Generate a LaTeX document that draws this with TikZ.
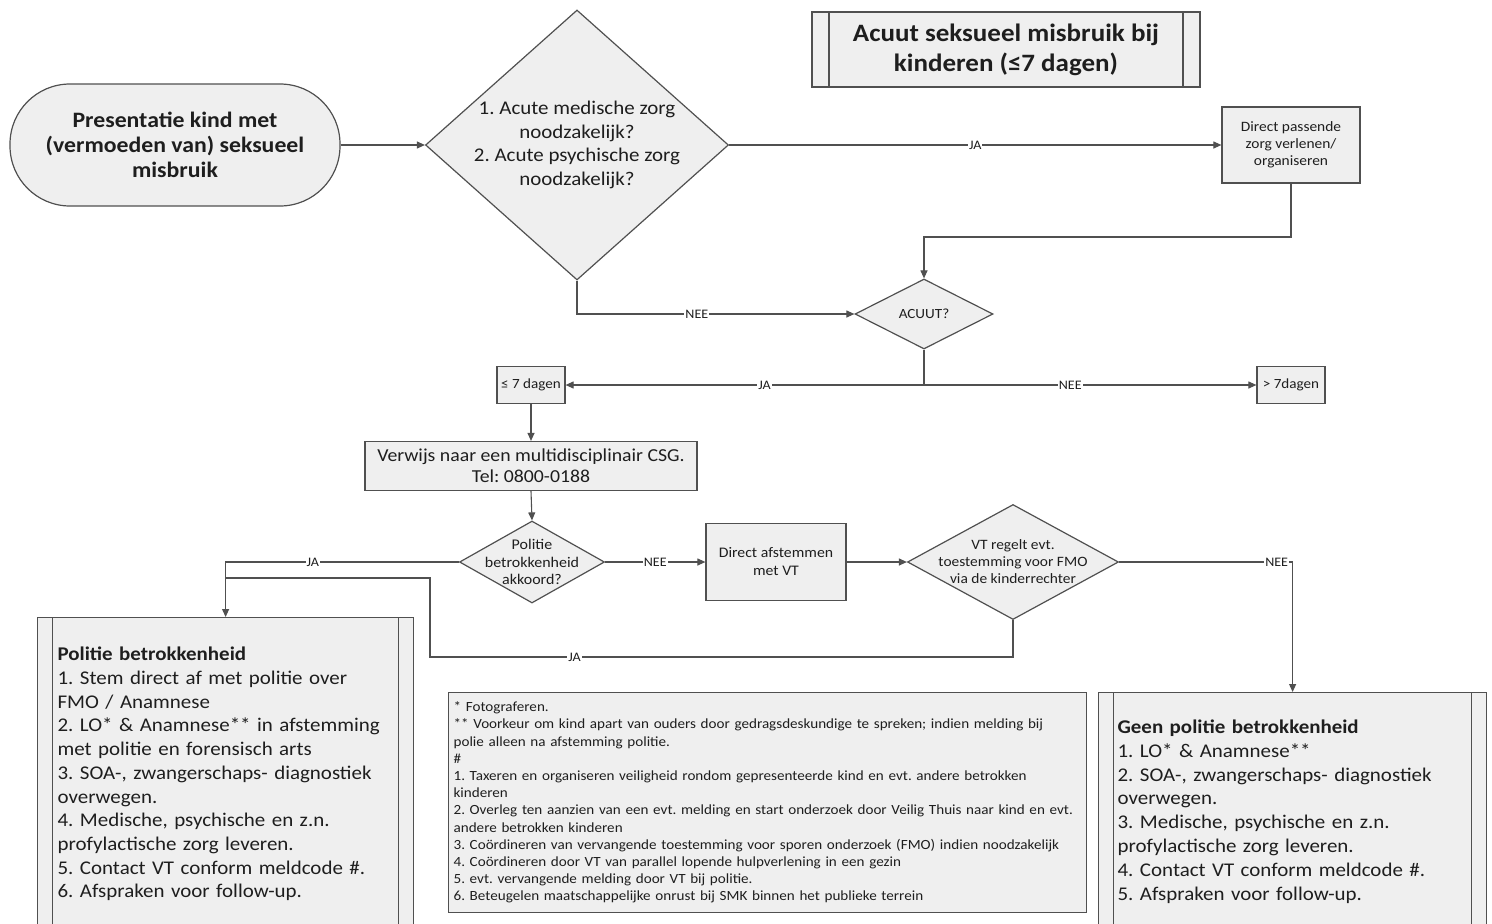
\documentclass[tikz,border=0pt]{standalone}
\usepackage{fontspec}
\setmainfont{Carlito}[FakeStretch=1.08]
\usetikzlibrary{shapes.geometric,arrows.meta}
\definecolor{linec}{HTML}{505050}
\definecolor{boxfill}{HTML}{EFEFEF}
\definecolor{textc}{HTML}{1E1E1E}
\newcommand{\fsz}[2]{\fontsize{#1}{#2}\selectfont}
\frenchspacing
\tikzset{
  shapebase/.style={draw=linec, line width=1.2pt, fill=boxfill, text=textc},
  procbox/.style={shapebase, rectangle, inner sep=2pt, align=center},
  decbox/.style={shapebase, diamond, inner sep=0pt},
  dectext/.style={align=center, text=textc, inner sep=0pt, fill=none, draw=none},
  predef/.style={shapebase, rectangle, inner sep=0pt, path picture={
     \draw[linec, line width=1.1pt]
       ([xshift=#1]path picture bounding box.north west) -- ([xshift=#1]path picture bounding box.south west)
       ([xshift=-#1]path picture bounding box.north east) -- ([xshift=-#1]path picture bounding box.south east);}},
  predef/.default=15pt,
  conn/.style={draw=linec, line width=1.1pt, -{Triangle[length=8pt,width=7pt]}},
  plainconn/.style={draw=linec, line width=1.1pt},
  elabel/.style={fill=white, inner sep=1pt, text=textc, font=\fsz{13}{13}},
}
\begin{document}
\begin{tikzpicture}[x=1pt, y=-1pt]
\useasboundingbox (0,0) rectangle (1492,924);
\fill[white] (0,0) rectangle (1492,924);
\clip (0,0) rectangle (1492,924);

% title
\node[predef=17pt, minimum width=388pt, minimum height=75pt, align=center, font=\bfseries\fsz{25}{30}] (title) at (1006,49.5) {Acuut seksueel misbruik bij\\kinderen (≤7 dagen)};

% start terminal
\node[shapebase, rectangle, rounded corners=60pt, minimum width=330pt, minimum height=122pt, align=center, font=\bfseries\fsz{22}{25}] (start) at (175,145) {Presentatie kind met\\(vermoeden van) seksueel\\misbruik};

% first decision
\node[decbox, minimum width=303pt, minimum height=270pt,
  label={[dectext, font=\fsz{19.4}{23.5}]center:{1. Acute medische zorg\\noodzakelijk?\\2. Acute psychische zorg\\noodzakelijk?}}] (q1) at (577,145) {};

\node[procbox, minimum width=138pt, minimum height=76pt, font=\fsz{14.3}{17}] (dp) at (1291,145) {Direct passende\\zorg verlenen/\\organiseren};

\node[decbox, minimum width=138pt, minimum height=70pt,
  label={[dectext, font=\fsz{14}{14}]center:ACUUT?}] (acuut) at (924,314) {};

\node[procbox, minimum width=68pt, minimum height=37pt, font=\fsz{14}{14}] (le7) at (531,385) {≤ 7 dagen};
\node[procbox, minimum width=68pt, minimum height=37pt, font=\fsz{14}{14}] (gt7) at (1291,385) {> 7dagen};

\node[procbox, minimum width=332pt, minimum height=49pt, font=\fsz{18.3}{21}] (csg) at (531,466) {Verwijs naar een multidisciplinair CSG.\\Tel: 0800-0188};

\node[decbox, minimum width=145pt, minimum height=82pt,
  label={[dectext, font=\fsz{14.8}{17.5}]center:{Politie\\betrokkenheid\\akkoord?}}] (pol) at (532,562) {};

\node[procbox, minimum width=140pt, minimum height=77pt, font=\fsz{14.6}{18}] (da) at (776,562) {Direct afstemmen\\met VT};

\node[decbox, minimum width=211pt, minimum height=115pt,
  label={[dectext, font=\fsz{14.3}{17}]center:{VT regelt evt.\\toestemming voor FMO\\via de kinderrechter}}] (vt) at (1013,562) {};

% bottom boxes
\node[predef=15pt, anchor=north west, minimum width=376pt, minimum height=313pt, text width=336pt, inner xsep=20pt, align=left, font=\fsz{19.4}{23.7}] (pb) at (37,617)
{\textbf{Politie betrokkenheid}\\
1. Stem direct af met politie over\\
FMO / Anamnese\\
2. LO* \& Anamnese** in afstemming\\
met politie en forensisch arts\\
3. SOA-, zwangerschaps- diagnostiek\\
overwegen.\\
4. Medische, psychische en z.n.\\
profylactische zorg leveren.\\
5. Contact VT conform meldcode \#.\\
6. Afspraken voor follow-up.};

\node[procbox, anchor=north west, minimum width=638pt, minimum height=220pt, text width=628pt, inner xsep=5pt, align=left, font=\fsz{14}{17.2}] (fn) at (448,692)
{* Fotograferen.\\{}** Voorkeur om kind apart van ouders door gedragsdeskundige te spreken; indien melding bij\\
polie alleen na afstemming politie.\\
\#\\
1. Taxeren en organiseren veiligheid rondom gepresenteerde kind en evt. andere betrokken\\
kinderen\\
2. Overleg ten aanzien van een evt. melding en start onderzoek door Veilig Thuis naar kind en evt.\\
andere betrokken kinderen\\
3. Coördineren van vervangende toestemming voor sporen onderzoek (FMO) indien noodzakelijk\\
4. Coördineren door VT van parallel lopende hulpverlening in een gezin\\
5. evt. vervangende melding door VT bij politie.\\
6. Beteugelen maatschappelijke onrust bij SMK binnen het publieke terrein};

\node[predef=15pt, anchor=north west, minimum width=388pt, minimum height=238pt, text width=350pt, inner xsep=19pt, align=left, font=\fsz{19.4}{23.8}] (gb) at (1098,692)
{\textbf{Geen politie betrokkenheid}\\
1. LO* \& Anamnese**\\
2. SOA-, zwangerschaps- diagnostiek\\
overwegen.\\
3. Medische, psychische en z.n.\\
profylactische zorg leveren.\\
4. Contact VT conform meldcode \#.\\
5. Afspraken voor follow-up.};

% connectors
\coordinate (yA) at (0,237);
\coordinate (split) at (924,385);
\coordinate (jaLow) at (430,657);
\coordinate (jaMid) at (430,578);

\draw[conn] (start.east) -- (q1.west);
\draw[conn] (q1.east) -- node[elabel]{JA} (dp.west);
\draw[conn] (dp.south) -- (dp.south |- yA) -- (acuut.north |- yA) -- (acuut.north);
\draw[conn] (q1.south) |- node[elabel, pos=0.716]{NEE} (acuut.west);
\draw[plainconn] (acuut.south) -- (split);
\draw[conn] (split) -- node[elabel, pos=0.445]{JA} (le7.east);
\draw[conn] (split) -- node[elabel, pos=0.44]{NEE} (gt7.west);
\draw[conn] (le7.south) -- (csg.north);
\draw[conn] (csg.south) -- (pol.north);
\draw[conn] (pol.east) -- node[elabel]{NEE} (da.west);
\draw[conn] (da.east) -- (vt.west);
\draw[conn] (vt.east) -| node[elabel, pos=0.454]{NEE} (gb.north);
\draw[conn] (pol.west) -| node[elabel, pos=0.313]{JA} (pb.north);
\draw[plainconn] (vt.south) |- node[elabel, pos=0.876]{JA} (jaLow) -- (jaMid) -- (pb.north |- jaMid);
\end{tikzpicture}
\end{document}
